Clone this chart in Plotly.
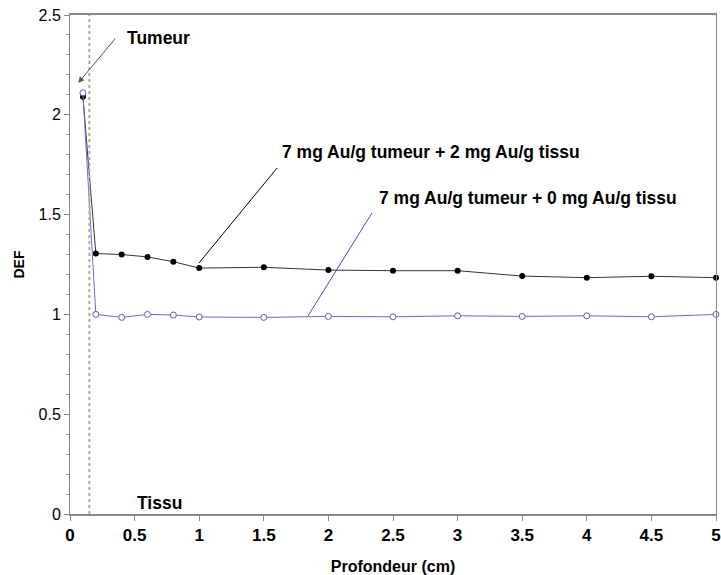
import plotly.graph_objects as go

depth = [0.1, 0.2, 0.4, 0.6, 0.8, 1.0, 1.5, 2.0, 2.5, 3.0, 3.5, 4.0, 4.5, 5.0]
def_2mg = [2.09, 1.305, 1.30, 1.288, 1.264, 1.232, 1.236, 1.222, 1.219, 1.219, 1.192, 1.184, 1.191, 1.184]
def_0mg = [2.11, 1.00, 0.985, 1.00, 0.997, 0.987, 0.985, 0.99, 0.988, 0.993, 0.99, 0.993, 0.988, 1.00]
x_ticks = [0, 0.5, 1, 1.5, 2, 2.5, 3, 3.5, 4, 4.5, 5]
y_ticks = [0, 0.5, 1, 1.5, 2, 2.5]
label_2mg = "7 mg Au/g tumeur + 2 mg Au/g tissu"
label_0mg = "7 mg Au/g tumeur + 0 mg Au/g tissu"
tumour_edge = 0.15

FONT = "Liberation Sans, Arial, sans-serif"

fig = go.Figure()
fig.add_trace(go.Scatter(
    x=depth, y=def_2mg, mode="lines+markers", name=label_2mg,
    line=dict(color="#333333", width=1),
    marker=dict(symbol="circle", size=6, color="#000000"),
    cliponaxis=False,
))
fig.add_trace(go.Scatter(
    x=depth, y=def_0mg, mode="lines+markers", name=label_0mg,
    line=dict(color="#6a6ad0", width=1),
    marker=dict(symbol="circle", size=6, color="#ffffff", line=dict(color="#5a5ac0", width=1)),
    cliponaxis=False,
))

# tumour boundary (dotted)
fig.add_shape(type="line", x0=tumour_edge, x1=tumour_edge, y0=0, y1=2.5, xref="x", yref="y",
              line=dict(color="#aaaaaa", width=2, dash="dot"))

# leader lines
fig.add_shape(type="line", x0=1.602, y0=1.733, x1=0.998, y1=1.257, xref="x", yref="y",
              line=dict(color="#000000", width=1))
fig.add_shape(type="line", x0=2.337, y0=1.508, x1=1.842, y1=0.992, xref="x", yref="y",
              line=dict(color="#4a4ad0", width=1))

tfont = dict(family=FONT, size=17.5, color="#000000", weight="bold")
fig.add_annotation(x=1.625, y=1.814, text=label_2mg, showarrow=False, xanchor="left",
                   yanchor="middle", font=tfont)
fig.add_annotation(x=2.376, y=1.583, text=label_0mg, showarrow=False, xanchor="left",
                   yanchor="middle", font=tfont)
fig.add_annotation(x=0.426, y=2.385, text="Tumeur", showarrow=False, xanchor="left",
                   yanchor="middle", font=tfont)
fig.add_annotation(x=0.064, y=2.16, ax=0.361, ay=2.39, axref="x", ayref="y", xref="x", yref="y",
                   text="", showarrow=True, arrowhead=2, arrowsize=1.2, arrowwidth=1,
                   arrowcolor="#555555")
fig.add_annotation(x=0.503, y=0.055, text="Tissu", showarrow=False, xanchor="left",
                   yanchor="middle", font=tfont)

fig.update_layout(
    width=721, height=575,
    margin=dict(l=70, r=5, t=15, b=61),
    paper_bgcolor="#ffffff", plot_bgcolor="#ffffff",
    showlegend=False,
    font=dict(family=FONT, size=15, color="#000000"),
)
fig.update_xaxes(
    range=[0, 5], tickvals=x_ticks, ticktext=[f"{v:g}" for v in x_ticks],
    showgrid=False, zeroline=False, automargin=False, ticklabeloverflow="allow",
    showline=True, linecolor="#888888", linewidth=2, mirror=True,
    ticks="outside", ticklen=5, tickcolor="#888888",
    tickfont=dict(family=FONT, size=17, weight="bold"),
    title=dict(text="Profondeur (cm)", font=dict(family=FONT, size=16, weight="bold"), standoff=18),
)
fig.update_yaxes(
    range=[0, 2.5], tickvals=y_ticks, ticktext=[f"{v:g}" for v in y_ticks],
    showgrid=False, zeroline=False, automargin=False, ticklabeloverflow="allow",
    showline=True, linecolor="#888888", linewidth=1, mirror=True,
    ticks="outside", ticklen=5, tickcolor="#888888",
    minor=dict(dtick=0.1, ticks="outside", ticklen=3, tickcolor="#999999", showgrid=False),
    tickfont=dict(family=FONT, size=16),
    title=dict(text="DEF", font=dict(family=FONT, size=14, weight="bold"), standoff=10),
)

fig.write_html(
    "out.html",
    config={"displayModeBar": False},
    post_script="document.body.style.margin='0';document.body.style.overflow='hidden';",
)
